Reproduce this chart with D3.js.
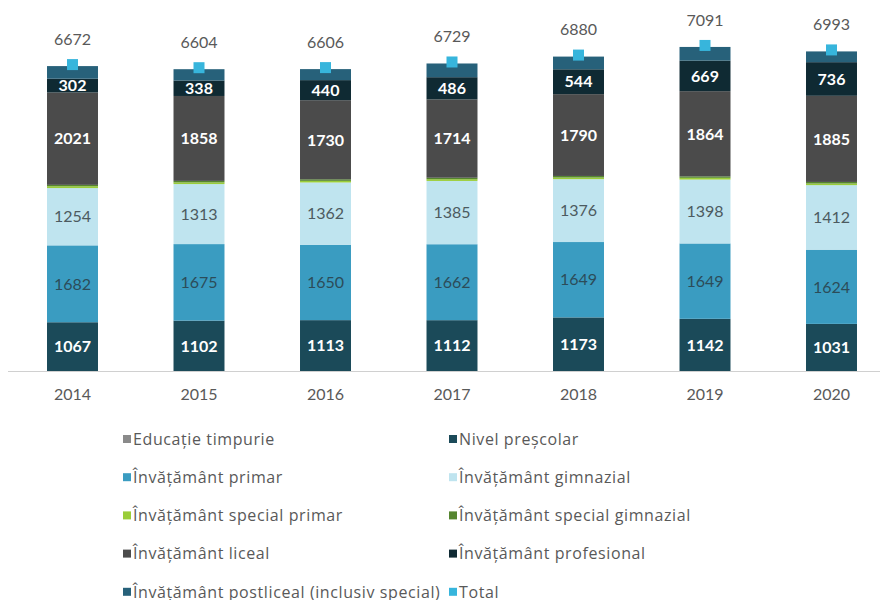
<!DOCTYPE html>
<meta charset="utf-8">
<style>
body { margin: 0; background: #fff; }
svg { display: block; }
text { font-family: Lato, "Open Sans", sans-serif; }
</style>
<script src="https://d3js.org/d3.v7.min.js"></script>
<body>
<svg id="chart" width="883" height="600"></svg>
<script>

// data
var years = ["2014", "2015", "2016", "2017", "2018", "2019", "2020"];

var timpurie        = [0, 0, 0, 0, 0, 0, 0];
var prescolar       = [1067, 1102, 1113, 1112, 1173, 1142, 1031];
var primar          = [1682, 1675, 1650, 1662, 1649, 1649, 1624];
var gimnazial       = [1254, 1313, 1362, 1385, 1376, 1398, 1412];
var specialPrimar   = [40, 38, 36, 38, 36, 38, 36];
var specialGimnazial= [30, 32, 34, 32, 34, 32, 34];
var liceal          = [2021, 1858, 1730, 1714, 1790, 1864, 1885];
var profesional     = [302, 338, 440, 486, 544, 669, 736];
var postliceal      = [276, 248, 241, 300, 278, 299, 235];
var total           = [6672, 6604, 6606, 6729, 6880, 7091, 6993];

var series = [
  { key: "timpurie",   name: "Educație timpurie",                          values: timpurie,         color: "#8a8a8a", label: null },
  { key: "prescolar",  name: "Nivel preșcolar",                            values: prescolar,        color: "#1b4a59", label: "#ffffff" },
  { key: "primar",     name: "Învățământ primar",                          values: primar,           color: "#3a9cc1", label: "#2c4c59" },
  { key: "gimnazial",  name: "Învățământ gimnazial",                       values: gimnazial,        color: "#bfe4ef", label: "#4c5a60" },
  { key: "spPrimar",   name: "Învățământ special primar",                  values: specialPrimar,    color: "#9acd38", label: null },
  { key: "spGimnazial",name: "Învățământ special gimnazial",               values: specialGimnazial, color: "#55852f", label: null },
  { key: "liceal",     name: "Învățământ liceal",                          values: liceal,           color: "#4b4b4b", label: "#ffffff" },
  { key: "profesional",name: "Învățământ profesional",                     values: profesional,      color: "#0f2a33", label: "#ffffff" },
  { key: "postliceal", name: "Învățământ postliceal (inclusiv special)",   values: postliceal,       color: "#27617a", label: null }
];

// legend order: two columns, row by row
var legendItems = [
  { name: "Educație timpurie", color: "#8a8a8a" },
  { name: "Nivel preșcolar", color: "#1b4a59" },
  { name: "Învățământ primar", color: "#3a9cc1" },
  { name: "Învățământ gimnazial", color: "#bfe4ef" },
  { name: "Învățământ special primar", color: "#9acd38" },
  { name: "Învățământ special gimnazial", color: "#55852f" },
  { name: "Învățământ liceal", color: "#4b4b4b" },
  { name: "Învățământ profesional", color: "#0f2a33" },
  { name: "Învățământ postliceal (inclusiv special)", color: "#27617a" },
  { name: "Total", color: "#37b5dc" }
];

var svg = d3.select("#chart");

var baseY = 371;

var x = d3.scaleBand()
    .domain(years)
    .range([9.25, 894.75])
    .paddingInner(0.597)
    .paddingOuter(0.2985);

var y = d3.scaleLinear()
    .domain([0, 8000])
    .range([baseY, baseY - 8000 * 0.0457]);

// build rows for stacking
var rows = years.map(function(yr, i) {
  var r = { year: yr };
  series.forEach(function(s) { r[s.key] = s.values[i]; });
  return r;
});

var stack = d3.stack().keys(series.map(function(s) { return s.key; }));
var stacked = stack(rows);

var layer = svg.append("g")
  .selectAll("g")
  .data(stacked)
  .enter().append("g")
    .attr("fill", function(d, i) { return series[i].color; });

layer.selectAll("rect")
  .data(function(d) { return d; })
  .enter().append("rect")
    .attr("x", function(d) { return x(d.data.year); })
    .attr("width", x.bandwidth())
    .attr("y", function(d) { return y(d[1]); })
    .attr("height", function(d) { return y(d[0]) - y(d[1]); });

// value labels inside segments
stacked.forEach(function(s, i) {
  var info = series[i];
  if (!info.label) return;
  svg.append("g")
    .selectAll("text")
    .data(s)
    .enter().append("text")
      .attr("x", function(d) { return x(d.data.year) + x.bandwidth() / 2; })
      .attr("y", function(d) { return (y(d[0]) + y(d[1])) / 2; })
      .attr("dy", "0.36em")
      .attr("text-anchor", "middle")
      .attr("fill", info.label)
      .style("font-size", "16px")
      .style("font-weight", info.label === "#ffffff" ? "bold" : "normal")
      .text(function(d) { return d[1] - d[0]; });
});

// axis line
var xAxis = d3.axisBottom(x).tickSize(0).tickPadding(17);
var ax = svg.append("g")
    .attr("transform", "translate(0," + (baseY + 0.5) + ")")
    .call(xAxis);
ax.select(".domain").attr("d", "M8,0H880").attr("stroke", "#d0d0d0");
ax.selectAll("text")
    .attr("fill", "#595959")
    .style("font-size", "16px")
    .style("font-family", "Lato, 'Open Sans', sans-serif");

// total markers
svg.append("g")
  .selectAll("rect")
  .data(total)
  .enter().append("rect")
    .attr("x", function(d, i) { return x(years[i]) + x.bandwidth() / 2 - 5.5; })
    .attr("y", function(d) { return y(d) - 7; })
    .attr("width", 11)
    .attr("height", 11)
    .attr("fill", "#37b5dc");

// total labels
svg.append("g")
  .selectAll("text")
  .data(total)
  .enter().append("text")
    .attr("x", function(d, i) { return x(years[i]) + x.bandwidth() / 2; })
    .attr("y", function(d) { return y(d) - 27; })
    .attr("dy", "0.36em")
    .attr("text-anchor", "middle")
    .attr("fill", "#595959")
    .style("font-size", "16px")
    .text(function(d) { return d; });

// legend
var legend = svg.append("g")
  .selectAll("g")
  .data(legendItems)
  .enter().append("g")
    .attr("transform", function(d, i) {
      var col = i % 2, row = Math.floor(i / 2);
      return "translate(" + (col ? 449 : 123) + "," + (439 + row * 38.2) + ")";
    });

legend.append("rect")
    .attr("x", 0)
    .attr("y", -4)
    .attr("width", 8)
    .attr("height", 8)
    .attr("fill", function(d) { return d.color; });

legend.append("text")
    .attr("x", 10)
    .attr("dy", "0.36em")
    .attr("fill", "#595959")
    .style("font-size", "16px")
    .style("letter-spacing", "0.6px")
    .style("font-family", "'Open Sans', sans-serif")
    .text(function(d) { return d.name; });

</script>
</body>
